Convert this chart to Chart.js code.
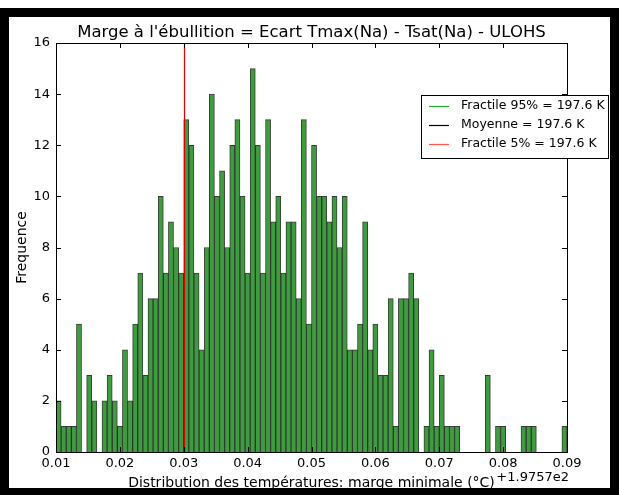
<!DOCTYPE html>
<html>
<head>
<meta charset="utf-8">
<script src="https://cdn.jsdelivr.net/npm/chart.js@4/dist/chart.umd.min.js"></script>
<style>
  html, body { margin: 0; padding: 0; background: #fff; }
  #wrap { position: relative; width: 619px; height: 495px; }
  canvas { display: block; }
</style>
</head>
<body>
<div id="wrap"><canvas id="c" width="619" height="495"></canvas></div>
<script>
// Histogram of the minimum boiling margin (offset +1.9757e2 °C), 100 bins
const binStart = 0.01;
const binWidth = 0.0008;
const counts = [
  2, 1, 1, 1, 5, 0, 3, 2, 0, 2,
  3, 2, 1, 4, 2, 5, 7, 3, 6, 6,
  10, 7, 9, 8, 7, 13, 12, 7, 4, 8,
  14, 10, 11, 8, 12, 13, 10, 7, 15, 12,
  7, 13, 9, 10, 7, 9, 9, 6, 13, 5,
  12, 10, 10, 9, 10, 8, 10, 4, 4, 5,
  9, 4, 5, 3, 3, 6, 1, 6, 6, 7,
  6, 0, 1, 4, 1, 3, 1, 1, 1, 0,
  0, 0, 0, 0, 3, 0, 1, 1, 0, 0,
  0, 1, 1, 1, 0, 0, 0, 0, 0, 1
];
const xTicks = [0.01, 0.02, 0.03, 0.04, 0.05, 0.06, 0.07, 0.08, 0.09];
const yTicks = [0, 2, 4, 6, 8, 10, 12, 14, 16];
const fractile5 = 0.030;
const legendLabels = ['Fractile 95% = 197.6 K', 'Moyenne = 197.6 K', 'Fractile 5% = 197.6 K'];
const legendColors = ['#22aa22', '#000000', '#ff5555'];
const titleText = "Marge à l'ébullition = Ecart Tmax(Na) - Tsat(Na) - ULOHS";
const xTitle = 'Distribution des températures: marge minimale (°C)';
const yTitle = 'Frequence';
const offsetText = '+1.9757e2';

const FONT = '"DejaVu Sans", "Liberation Sans", sans-serif';

const points = counts.map((c, i) => ({ x: binStart + (i + 0.5) * binWidth, y: c }));

const decor = {
  id: 'decor',
  beforeDraw(chart) {
    const ctx = chart.ctx;
    ctx.save();
    ctx.fillStyle = '#fff';
    ctx.fillRect(0, 0, chart.width, chart.height);
    ctx.restore();
  },
  afterDatasetsDraw(chart) {
    const ctx = chart.ctx;
    const a = chart.chartArea;
    const xs = chart.scales.x, ys = chart.scales.y;
    ctx.save();
    // 5% fractile line
    const fx = Math.round(xs.getPixelForValue(fractile5)) + 0.5;
    ctx.strokeStyle = '#e00000';
    ctx.lineWidth = 1.2;
    ctx.beginPath(); ctx.moveTo(fx, a.top); ctx.lineTo(fx, a.bottom); ctx.stroke();

    // inward tick marks on all four sides
    ctx.strokeStyle = '#000';
    ctx.lineWidth = 1;
    const tl = 5;
    xTicks.forEach(v => {
      const px = Math.round(xs.getPixelForValue(v)) + 0.5;
      ctx.beginPath();
      ctx.moveTo(px, a.bottom); ctx.lineTo(px, a.bottom - tl);
      ctx.moveTo(px, a.top); ctx.lineTo(px, a.top + tl);
      ctx.stroke();
    });
    yTicks.forEach(v => {
      const py = Math.round(ys.getPixelForValue(v)) + 0.5;
      ctx.beginPath();
      ctx.moveTo(a.left, py); ctx.lineTo(a.left + tl, py);
      ctx.moveTo(a.right, py); ctx.lineTo(a.right - tl, py);
      ctx.stroke();
    });
    // axes frame
    ctx.strokeRect(Math.round(a.left) + 0.5, Math.round(a.top) + 0.5,
                   Math.round(a.right - a.left), Math.round(a.bottom - a.top));

    // legend box
    const lx = 421, ly = 95, lw = 187, lh = 63;
    ctx.fillStyle = '#fff';
    ctx.fillRect(lx, ly, lw, lh);
    ctx.strokeStyle = '#000';
    ctx.strokeRect(lx + 0.5, ly + 0.5, lw, lh);
    ctx.font = '12.5px ' + FONT;
    ctx.textBaseline = 'middle';
    ctx.textAlign = 'left';
    legendLabels.forEach((t, i) => {
      const y = ly + 10.5 + i * 19;
      ctx.strokeStyle = legendColors[i];
      ctx.lineWidth = 1.2;
      ctx.beginPath(); ctx.moveTo(429, Math.round(y) + 0.5); ctx.lineTo(449, Math.round(y) + 0.5); ctx.stroke();
      ctx.fillStyle = '#000';
      ctx.fillText(t, 461, y);
    });
    ctx.restore();
  },
  afterDraw(chart) {
    const ctx = chart.ctx;
    const a = chart.chartArea;
    ctx.save();
    ctx.fillStyle = '#000';
    ctx.textBaseline = 'middle';
    // title
    ctx.font = '16.5px ' + FONT;
    ctx.textAlign = 'center';
    ctx.fillText(titleText, (a.left + a.right) / 2, 33);
    // x axis title and offset
    ctx.font = '14px ' + FONT;
    ctx.fillText(xTitle, (a.left + a.right) / 2, 483);
    ctx.font = '13px ' + FONT;
    ctx.textAlign = 'right';
    ctx.fillText(offsetText, a.right + 2, 478);
    // y axis title
    ctx.save();
    ctx.font = '14px ' + FONT;
    ctx.translate(22, (a.top + a.bottom) / 2);
    ctx.rotate(-Math.PI / 2);
    ctx.textAlign = 'center';
    ctx.fillText(yTitle, 0, 0);
    ctx.restore();
    // outer black frame
    ctx.fillStyle = '#000';
    ctx.fillRect(0, 8, 619, 9);
    ctx.fillRect(0, 8, 9, 487);
    ctx.fillRect(610, 8, 9, 487);
    ctx.fillRect(0, 488, 619, 7);
    ctx.restore();
  }
};

new Chart(document.getElementById('c'), {
  type: 'bar',
  data: {
    datasets: [{
      data: points,
      backgroundColor: '#3d9c3d',
      borderColor: 'rgba(20,30,20,0.85)',
      borderWidth: 1,
      barPercentage: 1,
      categoryPercentage: 1
    }]
  },
  options: {
    responsive: false,
    animation: false,
    devicePixelRatio: 1,
    layout: { padding: { left: 0, top: 43, right: 52, bottom: 0 } },
    plugins: { legend: { display: false }, tooltip: { enabled: false }, title: { display: false } },
    scales: {
      x: {
        type: 'linear',
        offset: false,
        min: 0.01, max: 0.09,
        grid: { display: false, drawTicks: false, offset: false },
        border: { display: false },
        afterBuildTicks: s => { s.ticks = xTicks.map(v => ({ value: v })); },
        afterFit: s => { s.height = 43; },
        ticks: {
          padding: 4,
          maxRotation: 0,
          autoSkip: false,
          color: '#000',
          font: { family: FONT, size: 13 },
          callback: v => v.toFixed(2)
        }
      },
      y: {
        min: 0, max: 16,
        grid: { display: false, drawTicks: false },
        border: { display: false },
        afterBuildTicks: s => { s.ticks = yTicks.map(v => ({ value: v })); },
        afterFit: s => { s.width = 56; },
        ticks: {
          padding: 6,
          color: '#000',
          font: { family: FONT, size: 13 },
          callback: v => String(v)
        }
      }
    }
  },
  plugins: [decor]
});
</script>
</body>
</html>
